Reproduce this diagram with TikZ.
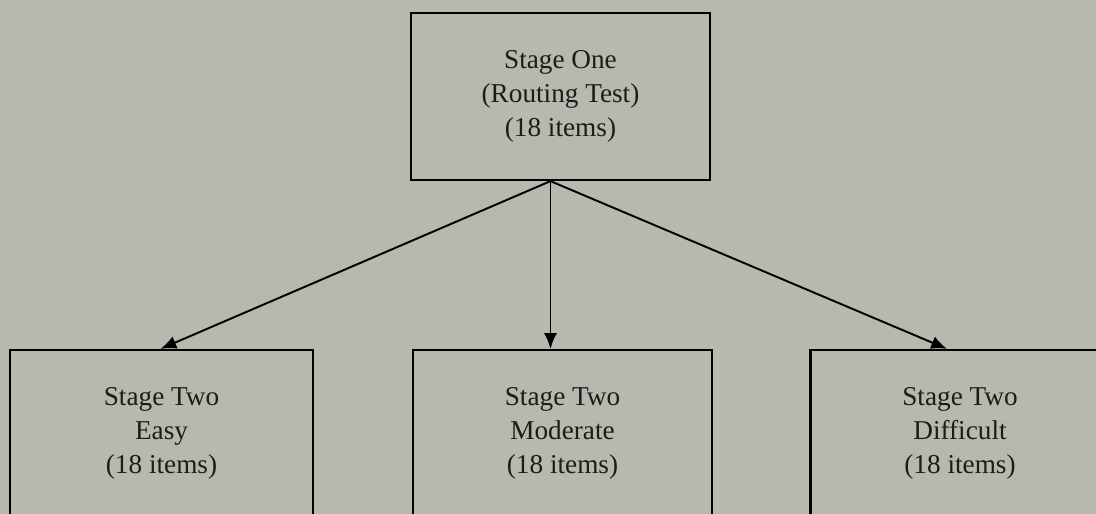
\documentclass[tikz,border=0pt]{standalone}
\usepackage{fontspec}
\setmainfont{Liberation Serif}
\usetikzlibrary{arrows.meta,calc}

\definecolor{paper}{RGB}{184,184,174}
\definecolor{ink}{RGB}{28,28,28}

\begin{document}
\begin{tikzpicture}[x=0.02cm,y=-0.02cm,>={Latex[length=9pt,width=7.5pt]}]
			\tikzset{stage/.style={draw, line width=1.3pt, fill=paper, minimum width=5.98cm, minimum height=3.34cm, align=center, inner sep=0pt, text=ink, font=\fontsize{15.5}{19.3}\selectfont}}

			\fill[paper] (0,0) rectangle (1096,514);
			\useasboundingbox (0,0) rectangle (1096,514);
			\clip (0,0) rectangle (1096,514);

			\node (one) [stage] at (560.5,96.5) {Stage One\\(Routing Test)\\(18 items)};

			\node (easy) [stage, minimum width=6.06cm] at (161.5,433.5) {Stage Two\\Easy\\(18 items)};
			\node (moderate) [stage] at (562.5,433.5) {Stage Two\\Moderate\\(18 items)};
			\node (difficult) [stage] at (960,433.5) {Stage Two\\Difficult\\(18 items)};

			\coordinate (apex) at ($(one.south) + (-10,0)$);

			\draw[->, line width=1.1pt] (apex) -- ($(easy.north) + (-1,0)$);
			\draw[->, line width=1.1pt] (apex) -- ($(moderate.north) + (-12,0)$);
			\draw[->, line width=1.1pt] (apex) -- ($(difficult.north) + (-13,0)$);
		\end{tikzpicture}
\end{document}
